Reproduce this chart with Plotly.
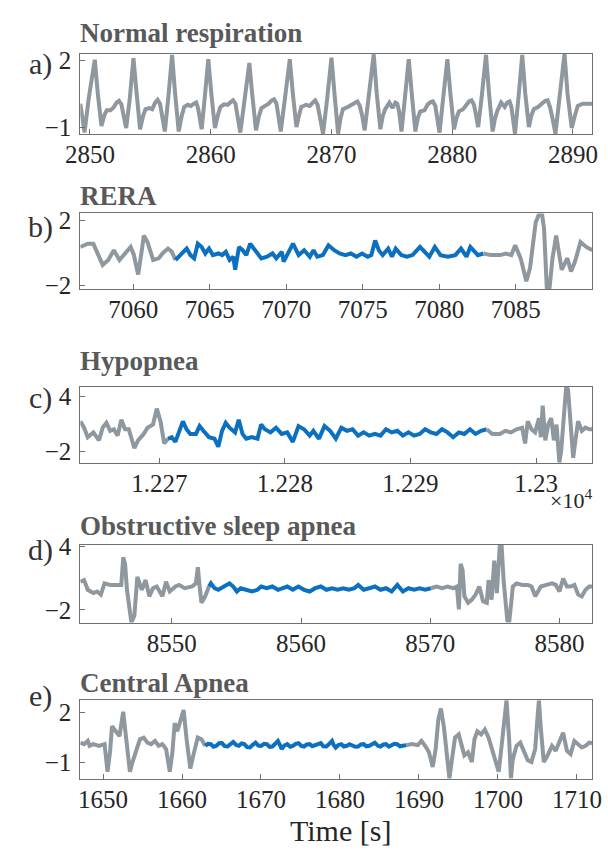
import plotly.graph_objects as go

GRAY = "#8F979F"
BLUE = "#0B70BF"
FONT = "Liberation Serif, Times New Roman, serif"

# ---------------- Panel a: Normal respiration ----------------
a_t = [2849.2, 2849.35, 2849.55, 2849.9, 2850.4,
       2850.65, 2850.95, 2851.2, 2851.4, 2851.7, 2851.95, 2852.2, 2852.4, 2852.6, 2852.8, 2853.0, 2853.3, 2853.6,
       2853.85, 2854.15, 2854.4, 2854.6, 2854.9, 2855.15, 2855.4, 2855.6, 2855.8, 2856.0, 2856.2, 2856.5, 2856.8,
       2857.05, 2857.35, 2857.6, 2857.8, 2858.1, 2858.35, 2858.6, 2858.8, 2858.95, 2859.1, 2859.25, 2859.5, 2859.8,
       2860.05, 2860.35, 2860.6, 2860.8, 2861.1, 2861.4, 2861.65, 2861.85, 2862.05, 2862.25, 2862.45, 2862.8, 2863.2,
       2863.45, 2863.75, 2864.0, 2864.2, 2864.5, 2864.8, 2865.05, 2865.25, 2865.45, 2865.6, 2865.8, 2866.15, 2866.55,
       2866.8, 2867.1, 2867.3, 2867.5, 2867.9, 2868.2, 2868.45, 2868.65, 2868.85, 2869.05, 2869.3, 2869.65, 2870.0,
       2870.25, 2870.55, 2870.75, 2870.95, 2871.35, 2871.7, 2871.95, 2872.15, 2872.35, 2872.55, 2872.75, 2873.1, 2873.5,
       2873.75, 2874.05, 2874.25, 2874.45, 2874.8, 2875.05, 2875.3, 2875.45, 2875.6, 2875.8, 2876.1, 2876.4,
       2876.65, 2876.95, 2877.15, 2877.35, 2877.7, 2877.95, 2878.2, 2878.4, 2878.6, 2878.75, 2878.95, 2879.25, 2879.6,
       2879.85, 2880.15, 2880.35, 2880.55, 2880.9, 2881.15, 2881.4, 2881.6, 2881.8, 2881.95, 2882.15, 2882.45, 2882.8,
       2883.05, 2883.35, 2883.55, 2883.75, 2884.05, 2884.35, 2884.55, 2884.75, 2884.9, 2885.05, 2885.2, 2885.5, 2885.8,
       2886.05, 2886.35, 2886.55, 2886.75, 2887.1, 2887.45, 2887.7, 2887.9, 2888.1, 2888.3, 2888.55, 2888.9, 2889.3,
       2889.55, 2889.9, 2890.15, 2890.4, 2890.8, 2891.6]
a_v = [0.05, -0.6, -1.25, 0.3, 2.03,
       0.5, -0.95, -0.45, -0.25, -0.25, -0.12, 0.1, 0.18, 0.02, -0.5, -1.05, 0.3, 2.10,
       0.6, -1.1, -0.5, -0.2, -0.15, -0.2, 0.1, 0.22, 0.05, -0.5, -1.2, 0.4, 2.25,
       0.5, -1.2, -0.5, -0.1, 0.0, -0.05, 0.05, 0.1, -0.15, -0.7, -1.1, 0.3, 2.05,
       0.5, -1.05, -0.45, -0.1, 0.02, 0.0, 0.12, 0.2, 0.05, -0.5, -1.25, 0.2, 1.88,
       0.4, -1.15, -0.5, -0.15, -0.05, 0.05, 0.2, 0.25, 0.05, -0.5, -1.2, 0.3, 2.05,
       0.5, -1.0, -0.5, -0.1, 0.0, -0.05, 0.1, 0.2, 0.0, -0.5, -1.3, 0.3, 2.12,
       0.5, -1.3, -0.6, -0.2, -0.1, 0.0, 0.12, 0.15, -0.05, -0.5, -1.15, 0.3, 2.27,
       0.5, -1.1, -0.5, -0.2, 0.1, -0.15, 0.1, 0.05, -0.3, -1.2, 0.4, 2.05,
       0.5, -1.2, -0.6, -0.3, -0.25, 0.0, 0.12, 0.15, -0.05, -0.5, -1.25, 0.3, 2.05,
       0.5, -1.1, -0.6, -0.3, -0.2, 0.0, 0.15, 0.2, 0.0, -0.4, -1.0, 0.4, 2.25,
       0.5, -1.2, -0.6, -0.25, 0.1, -0.1, 0.1, 0.15, -0.1, -0.6, -1.3, 0.4, 2.25,
       0.5, -1.0, -0.5, -0.2, -0.1, 0.05, 0.18, 0.2, -0.1, -0.6, -1.3, 0.4, 2.29,
       0.5, -1.05, -0.5, -0.05, 0.05, 0.05]

# ---------------- Panel b: RERA ----------------
b_pre_t = [7056.54, 7057.03, 7057.39, 7058.0, 7058.37, 7058.73, 7059.1, 7059.47, 7059.83, 7060.03,
           7060.32, 7060.56, 7060.69, 7060.93, 7061.3, 7061.66, 7061.91, 7062.27, 7062.52, 7062.76]
b_pre_v = [0.38, 0.58, 0.58, -0.72, -0.42, 0.18, -0.42, -0.02, 0.38, -0.08,
           -1.31, 0.18, 1.08, 0.68, -0.42, -0.32, -0.02, 0.28, 0.08, -0.42]
b_evt_t = [7062.76, 7063.13, 7063.49, 7063.74, 7063.98, 7064.22, 7064.47, 7064.71, 7064.95, 7065.2,
           7065.56, 7065.81, 7066.05, 7066.3, 7066.54, 7066.66, 7066.91, 7067.15, 7067.39, 7067.64,
           7067.88, 7068.13, 7068.37, 7068.74, 7069.1, 7069.35, 7069.71, 7069.83, 7070.2, 7070.44,
           7070.81, 7071.17, 7071.54, 7071.78, 7072.03, 7072.39, 7072.76, 7073.13, 7073.49, 7073.86,
           7074.22, 7074.59, 7074.95, 7075.32, 7075.56, 7075.81, 7076.05, 7076.3, 7076.66, 7076.91,
           7077.15, 7077.52, 7077.88, 7078.25, 7078.74, 7079.1, 7079.35, 7079.71, 7080.08, 7080.56,
           7081.05, 7081.42, 7081.78, 7082.03, 7082.52, 7082.88]
b_evt_v = [-0.42, -0.02, 0.28, -0.12, -0.32, 0.58, 0.38, -0.02, 0.28, -0.12,
           -0.02, -0.12, 0.08, -0.42, -0.22, -1.02, 0.38, 0.18, -0.12, 0.58,
           0.28, -0.12, -0.32, -0.22, -0.02, -0.32, 0.08, -0.52, 0.08, 0.58,
           -0.12, 0.18, -0.22, 0.18, -0.22, -0.12, 0.48, 0.18, -0.02, -0.12,
           -0.02, -0.22, -0.02, -0.22, -0.12, 0.78, 0.18, -0.12, 0.28, -0.22,
           0.28, -0.12, -0.22, -0.12, 0.38, -0.02, -0.22, 0.38, -0.12, -0.22,
           -0.12, 0.28, -0.22, 0.38, -0.12, -0.02]
b_post_t = [7082.88, 7083.37, 7083.98, 7084.35, 7084.71, 7084.96, 7085.32, 7085.69, 7085.93, 7086.3,
            7086.54, 7086.71, 7086.85, 7087.03, 7087.2, 7087.4, 7087.64, 7088.0, 7088.37, 7088.61,
            7088.87, 7089.23, 7089.6, 7090.0]
b_post_v = [-0.02, -0.12, -0.12, -0.02, -0.12, 0.48, -0.32, -1.72, -0.92, 1.88,
            2.44, 2.44, 1.5, -2.2, -2.2, -0.31, 1.08, -1.02, -0.31, -1.12,
            -0.52, 0.68, 0.38, 0.18]

# ---------------- Panel c: Hypopnea ----------------
c_pre_t = [12263.7, 12264.0, 12264.29, 12264.74, 12265.19, 12265.48, 12265.78, 12266.08, 12266.37, 12266.67,
           12266.97, 12267.26, 12267.56, 12268.01, 12268.3, 12268.75, 12269.05, 12269.49, 12269.79, 12270.09,
           12270.38, 12270.68]
c_pre_v = [1.26, 0.57, -0.46, 0.06, -0.8, 0.57, 1.09, 0.23, 0.4, -0.29,
           1.43, 0.4, 0.4, -1.66, -0.8, -0.11, 0.57, 0.91, 2.63, 1.26,
           -1.14, -0.63]
c_evt_t = [12270.68, 12270.98, 12271.27, 12271.57, 12271.87, 12272.16, 12272.46, 12272.91, 12273.2, 12273.5,
           12273.95, 12274.39, 12274.69, 12274.99, 12275.28, 12275.58, 12276.03, 12276.32, 12276.62, 12276.92,
           12277.36, 12277.81, 12278.1, 12278.4, 12278.85, 12279.29, 12279.74, 12280.18, 12280.63, 12281.08,
           12281.52, 12281.97, 12282.26, 12282.71, 12283.15, 12283.6, 12284.05, 12284.49, 12284.94, 12285.38,
           12285.83, 12286.27, 12286.72, 12287.16, 12287.61, 12288.05, 12288.5, 12288.95, 12289.39, 12289.84,
           12290.28, 12290.73, 12291.17, 12291.62, 12292.06, 12292.51, 12292.95, 12293.4, 12293.85, 12294.29,
           12294.74, 12295.18, 12295.63, 12296.07]
c_evt_v = [-0.63, -0.46, -0.97, 0.23, 1.26, 0.4, -0.11, -0.11, 0.74, 0.23,
           -0.46, -0.63, -1.49, 0.23, 1.09, 0.57, 0.06, 1.43, -0.11, -0.63,
           -0.46, -0.63, 0.91, 0.4, 0.06, 0.57, -0.11, 0.06, -0.97, 0.74,
           0.4, -0.29, 0.23, -0.63, 0.74, 0.23, -0.63, 0.57, 0.23, 0.4,
           -0.29, 0.06, -0.29, -0.11, -0.29, 0.4, 0.06, 0.23, -0.29, 0.06,
           -0.29, -0.11, 0.4, 0.06, -0.11, 0.4, 0.06, -0.46, 0.06, -0.11,
           0.4, -0.11, 0.23, 0.4]
c_post_t = [12296.07, 12296.52, 12297.11, 12297.56, 12298.0, 12298.45, 12298.89, 12299.13, 12299.34, 12299.64,
            12299.93, 12300.23, 12300.38, 12300.53, 12300.74, 12300.97, 12301.21, 12301.42, 12301.63, 12301.86,
            12302.01, 12302.22, 12302.4, 12302.55, 12302.76, 12302.96, 12303.14, 12303.35, 12303.65, 12303.94,
            12304.24, 12304.48]
c_post_v = [0.4, -0.11, -0.11, 0.23, 0.06, 0.4, 0.57, -1.14, 1.26, 0.4,
            0.06, 1.6, -0.46, 2.97, -0.8, 0.91, 1.6, -0.8, 0.91, -3.2,
            -1.83, 2.63, 5.03, 4.69, 0.91, -2.69, -0.8, 1.26, 0.23, 0.57,
            0.4, 0.4]

# ---------------- Panel d: Obstructive sleep apnea ----------------
d_pre_t = [8542.93, 8543.22, 8543.51, 8543.94, 8544.23, 8544.52, 8544.8, 8545.24, 8545.67, 8546.1,
           8546.25, 8546.39, 8546.54, 8546.68, 8546.88, 8547.11, 8547.34, 8547.69, 8547.98, 8548.27,
           8548.55, 8548.84, 8549.28, 8549.56, 8549.85, 8550.29, 8550.57, 8551.01, 8551.58, 8551.87,
           8552.02, 8552.16, 8552.3, 8552.59, 8552.88]
d_pre_v = [0.68, 0.83, -0.09, -0.4, -0.25, -0.55, 0.52, 0.37, 0.37, 0.37,
           2.98, 2.37, -0.09, -1.63, -3.2, -2.55, 1.14, -0.09, 0.83, -0.71,
           0.06, 0.22, -0.71, 0.68, -0.25, 0.22, 0.37, 0.06, 0.22, 0.52,
           2.06, 0.22, -1.32, -0.71, 0.22]
d_evt_t = [8552.88, 8553.03, 8553.31, 8553.6, 8554.04, 8554.47, 8554.76, 8555.04, 8555.33, 8555.77,
           8556.2, 8556.63, 8556.92, 8557.35, 8557.78, 8558.22, 8558.65, 8558.94, 8559.37, 8559.8,
           8560.24, 8560.67, 8561.1, 8561.53, 8561.97, 8562.4, 8562.83, 8563.26, 8563.7, 8564.13,
           8564.42, 8564.85, 8565.28, 8565.72, 8566.15, 8566.58, 8567.01, 8567.45, 8567.88, 8568.31,
           8568.75, 8569.18, 8569.61, 8570.04]
d_evt_v = [0.22, 0.52, 0.06, -0.09, 0.22, 0.52, 0.22, -0.25, 0.06, -0.09,
           -0.25, -0.09, 0.22, 0.06, 0.22, -0.09, 0.06, 0.22, -0.09, 0.22,
           -0.09, -0.25, 0.06, 0.22, -0.09, 0.06, -0.09, 0.06, -0.09, 0.06,
           0.37, -0.09, 0.06, 0.22, -0.09, 0.06, -0.25, 0.37, -0.25, 0.06,
           -0.09, 0.06, -0.09, 0.06]
d_post_t = [8570.04, 8570.48, 8570.91, 8571.34, 8571.77, 8572.06, 8572.21, 8572.35, 8572.5, 8572.64,
            8572.93, 8573.22, 8573.5, 8573.79, 8574.08, 8574.37, 8574.51, 8574.74, 8574.95, 8575.15,
            8575.38, 8575.52, 8575.67, 8575.96, 8576.1, 8576.39, 8576.68, 8577.11, 8577.54, 8577.83,
            8578.12, 8578.55, 8578.98, 8579.42, 8579.71, 8579.99, 8580.28, 8580.57, 8580.86, 8581.15,
            8581.44, 8581.72, 8582.01, 8582.3, 8582.53]
d_post_v = [0.06, 0.22, 0.06, 0.22, 0.06, 0.22, -1.94, 2.37, 1.75, -0.71,
            -1.32, -1.02, -0.55, 0.22, -1.17, -1.32, 0.83, -1.02, 2.68, -0.4,
            4.2, 4.06, 0.83, -3.02, -3.2, 0.22, 0.52, 0.37, 0.37, 0.22,
            -0.71, 0.22, 0.37, 0.52, 0.37, -0.25, 0.98, 0.22, 0.22, 0.37,
            -0.55, -0.71, -0.09, 0.22, 0.22]

# ---------------- Panel e: Central Apnea ----------------
e_pre_t = [1647.12, 1647.59, 1648.06, 1648.3, 1648.77, 1649.48, 1650.19, 1650.57, 1650.9, 1651.13,
           1651.61, 1652.08, 1652.55, 1653.02, 1653.4, 1653.73, 1654.2, 1654.67, 1655.15, 1655.62,
           1656.09, 1656.56, 1657.04, 1657.51, 1657.98, 1658.45, 1658.78, 1659.07, 1659.4, 1659.87,
           1660.2, 1660.58, 1661.05, 1661.52, 1661.99, 1662.47, 1662.94]
e_pre_v = [0.19, 0.1, 0.29, 0.0, 0.1, 0.0, 0.1, -1.55, -0.29, 1.17,
           0.87, 0.58, 2.04, 0.0, -1.55, -0.97, -0.29, 0.39, 0.49, 0.19,
           0.1, 0.29, 0.0, 0.1, -0.19, -1.55, -0.39, 1.36, 0.87, 1.65,
           2.14, 0.39, -1.36, -0.39, 0.49, 0.39, 0.0]
e_evt_t = [1662.94, 1663.3, 1663.65, 1664.0, 1664.35, 1664.7, 1665.06, 1665.4, 1665.77, 1666.1,
           1666.48, 1666.85, 1667.19, 1667.55, 1667.89, 1668.25, 1668.6, 1668.95, 1669.31, 1669.65,
           1670.02, 1670.4, 1670.73, 1671.1, 1671.44, 1671.8, 1672.14, 1672.4, 1672.62, 1672.95,
           1673.32, 1673.7, 1674.03, 1674.4, 1674.74, 1675.1, 1675.45, 1675.8, 1676.16, 1676.5,
           1676.87, 1677.2, 1677.57, 1677.9, 1678.28, 1678.65, 1678.99, 1679.2, 1679.46, 1679.8,
           1680.17, 1680.5, 1680.88, 1681.2, 1681.59, 1681.95, 1682.3, 1682.65, 1683.0, 1683.35,
           1683.71, 1684.05, 1684.42, 1684.8, 1685.13, 1685.5, 1685.84, 1686.2, 1686.54, 1686.9,
           1687.25, 1687.6, 1687.96, 1688.43]
e_evt_v = [0.0, 0.12, 0.1, -0.05, 0.0, 0.15, 0.16, -0.02, -0.04, 0.1,
           0.23, 0.05, 0.0, 0.14, 0.1, -0.08, -0.1, 0.06, 0.19, 0.02,
           0.0, 0.12, 0.1, -0.06, -0.04, 0.12, 0.29, 0.05, -0.19, 0.02,
           0.1, -0.05, 0.0, 0.12, 0.16, 0.0, -0.04, 0.08, 0.1, -0.02,
           0.04, 0.13, 0.16, -0.03, -0.04, 0.12, 0.29, 0.05, -0.1, 0.05,
           0.1, -0.04, 0.0, 0.1, 0.04, -0.06, -0.04, 0.08, 0.1, -0.03,
           0.0, 0.12, 0.19, 0.0, -0.04, 0.08, 0.1, -0.05, 0.04, 0.12,
           0.1, -0.03, 0.0, 0.04]
e_post_t = [1688.43, 1689.14, 1689.85, 1690.32, 1690.79, 1691.27, 1691.74, 1692.12, 1692.45, 1692.78,
            1693.15, 1693.53, 1693.86, 1694.19, 1694.57, 1695.04, 1695.42, 1695.75, 1696.22, 1696.7,
            1697.03, 1697.4, 1697.88, 1698.35, 1698.82, 1699.29, 1699.76, 1700.1, 1700.38, 1700.71,
            1701.09, 1701.42, 1701.65, 1701.89, 1702.36, 1702.83, 1703.31, 1703.78, 1704.25, 1704.72,
            1704.96, 1705.19, 1705.43, 1705.81, 1706.28, 1706.85, 1707.32, 1707.79, 1708.26, 1708.74,
            1709.21, 1709.68, 1710.15, 1710.62, 1711.1, 1711.57, 1711.95]
e_post_v = [0.04, 0.1, 0.04, 0.29, 0.0, -0.39, -1.26, -0.19, 1.55, 2.23,
            1.17, -0.58, -1.94, -0.78, 0.49, 0.68, 0.0, -0.58, -0.39, -0.97,
            0.39, 0.87, 0.68, 0.97, 0.49, -0.19, -0.97, -1.55, -0.39, 1.17,
            2.72, 0.39, -1.94, -0.78, 0.0, 0.19, -0.39, -0.87, -0.97, -0.19,
            1.36, 2.72, 1.07, -0.97, -0.58, 0.0, -0.29, 0.19, 0.78, -0.29,
            -0.49, 0.29, 0.1, -0.1, 0.0, 0.19, 0.16]

# ---------------- axes / labels ----------------
titles = ["Normal respiration", "RERA", "Hypopnea", "Obstructive sleep apnea", "Central Apnea"]
letters = ["a)", "b)", "c)", "d)", "e)"]
x_ranges = [[2849.2, 2891.6], [7056.54, 7090.0], [12263.7, 12304.48], [8542.93, 8582.53], [1647.12, 1711.95]]
y_ranges = [[-1.31, 2.29], [-2.2, 2.44], [-3.27, 5.03], [-3.2, 4.2], [-1.98, 2.72]]
x_ticks = [[2850, 2860, 2870, 2880, 2890],
           [7060, 7065, 7070, 7075, 7080, 7085],
           [12270, 12280, 12290, 12300],
           [8550, 8560, 8570, 8580],
           [1650, 1660, 1670, 1680, 1690, 1700, 1710]]
x_ticktext_c = ["1.227", "1.228", "1.229", "1.23"]
y_ticks = [[-1, 2], [-2, 2], [-2, 4], [-2, 4], [-1, 2]]
x_label = "Time [s]"
exp_label = "×10<sup>4</sup>"

W, H = 608, 854
box_px = [(44, 126), (207.5, 285), (385, 463.5), (547, 627), (706.7, 787.3)]
title_py = [23, 190, 359, 528, 689]
letter_py = [54, 221, 397, 553, 702]

fig = go.Figure()
series = [
    [(a_t, a_v, GRAY)],
    [(b_pre_t, b_pre_v, GRAY), (b_evt_t, b_evt_v, BLUE), (b_post_t, b_post_v, GRAY)],
    [(c_pre_t, c_pre_v, GRAY), (c_evt_t, c_evt_v, BLUE), (c_post_t, c_post_v, GRAY)],
    [(d_pre_t, d_pre_v, GRAY), (d_evt_t, d_evt_v, BLUE), (d_post_t, d_post_v, GRAY)],
    [(e_pre_t, e_pre_v, GRAY), (e_evt_t, e_evt_v, BLUE), (e_post_t, e_post_v, GRAY)],
]
for i, segs in enumerate(series):
    sfx = "" if i == 0 else str(i + 1)
    for (t, v, col) in segs:
        fig.add_trace(go.Scatter(x=t, y=v, mode="lines", xaxis="x" + sfx, yaxis="y" + sfx,
                                 line=dict(color=col, width=4), showlegend=False,
                                 hoverinfo="skip"))

layout = dict(width=W, height=H, margin=dict(l=0, r=0, t=0, b=0),
              paper_bgcolor="white", plot_bgcolor="white",
              font=dict(family=FONT, color="#262626"), showlegend=False)
annotations = []
for i in range(5):
    sfx = "" if i == 0 else str(i + 1)
    top, bot = box_px[i]
    xa = dict(domain=[68 / W, 601 / W], range=x_ranges[i], anchor="y" + sfx,
              showline=True, mirror=True, linecolor="#707070", linewidth=1,
              ticks="inside", ticklen=5, tickcolor="#707070", showgrid=False, zeroline=False,
              tickvals=x_ticks[i], tickfont=dict(size=25, family=FONT, color="#262626"),
              ticklabelstandoff=-2)
    if i == 2:
        xa["ticktext"] = x_ticktext_c
    ya = dict(domain=[1 - bot / H, 1 - top / H], range=y_ranges[i], anchor="x" + sfx,
              showline=True, mirror=True, linecolor="#707070", linewidth=1,
              ticks="inside", ticklen=5, tickcolor="#707070", showgrid=False, zeroline=False,
              tickvals=y_ticks[i], tickfont=dict(size=25, family=FONT, color="#262626"),
              ticklabelstandoff=3)
    layout["xaxis" + sfx] = xa
    layout["yaxis" + sfx] = ya
    annotations.append(dict(text="<b>" + titles[i] + "</b>", xref="paper", yref="paper",
                            x=66 / W, y=1 - title_py[i] / H, xanchor="left", yanchor="middle",
                            showarrow=False, font=dict(size=27, family=FONT, color="#595959")))
    annotations.append(dict(text=letters[i], xref="paper", yref="paper",
                            x=27 / W, y=1 - letter_py[i] / H, xanchor="center", yanchor="middle",
                            showarrow=False, font=dict(size=30, family=FONT, color="#333333")))
annotations.append(dict(text=exp_label, xref="paper", yref="paper", x=603 / W, y=1 - 500 / H,
                        xanchor="right", yanchor="middle", showarrow=False,
                        font=dict(size=22, family=FONT, color="#262626")))
annotations.append(dict(text=x_label, xref="paper", yref="paper", x=339 / W, y=1 - 840 / H,
                        xanchor="center", yanchor="middle", showarrow=False,
                        font=dict(size=30, family=FONT, color="#262626")))
layout["annotations"] = annotations
fig.update_layout(**layout)
fig.write_html("out.html")
